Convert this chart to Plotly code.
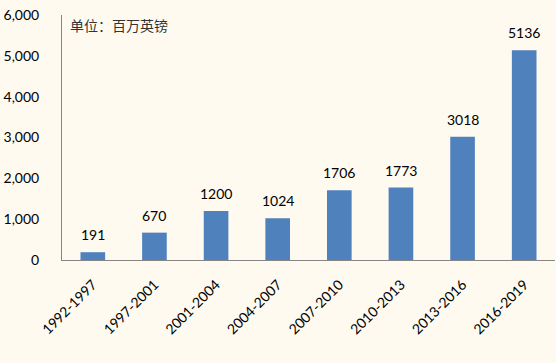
import plotly.graph_objects as go

categories = ["1992-1997", "1997-2001", "2001-2004", "2004-2007", "2007-2010", "2010-2013", "2013-2016", "2016-2019"]
values = [191, 670, 1200, 1024, 1706, 1773, 3018, 5136]
y_ticks = [0, 1000, 2000, 3000, 4000, 5000, 6000]
y_tick_labels = ["0", "1,000", "2,000", "3,000", "4,000", "5,000", "6,000"]
unit_label = "单位：百万英镑"

bg = "#FEFAF0"
font_family = "Lato, 'Noto Sans CJK SC', sans-serif"

fig = go.Figure(go.Bar(
    x=categories, y=values,
    marker=dict(color="#4F81BD", line=dict(width=0)),
    hoverinfo="x+y",
))

annotations = [dict(
    x=c, y=v, xref="x", yref="y", text=str(v), showarrow=False,
    xanchor="center", yanchor="bottom", yshift=7,
    font=dict(size=14, color="#000000", family=font_family),
) for c, v in zip(categories, values)]

annotations.append(dict(
    text=unit_label, xref="paper", yref="paper", x=0.012, y=1.0,
    xanchor="left", yanchor="top", yshift=2, showarrow=False,
    font=dict(size=14, color="#333333", family="'Noto Sans CJK SC', sans-serif"),
))

fig.update_layout(
    width=556, height=363,
    margin=dict(l=62, r=1, t=15, b=103, autoexpand=False),
    paper_bgcolor=bg, plot_bgcolor=bg,
    bargap=0.6,
    showlegend=False,
    font=dict(family=font_family, size=14, color="#000000"),
    xaxis=dict(
        tickangle=-45, showline=True, linecolor="#868686", linewidth=1,
        showgrid=False, ticks="", tickfont=dict(size=14), automargin=False,
        ticklabelstandoff=10,
    ),
    yaxis=dict(
        range=[0, 6000], tickvals=y_ticks, ticktext=y_tick_labels,
        showline=True, linecolor="#868686", linewidth=1,
        showgrid=False, zeroline=False, ticks="", ticklabelstandoff=19,
        tickfont=dict(size=14), automargin=False,
    ),
    annotations=annotations,
)

post = "document.body.style.margin='0';document.body.style.background='%s';" % bg
fig.write_html("out.html", post_script=post, config={"displayModeBar": False})
